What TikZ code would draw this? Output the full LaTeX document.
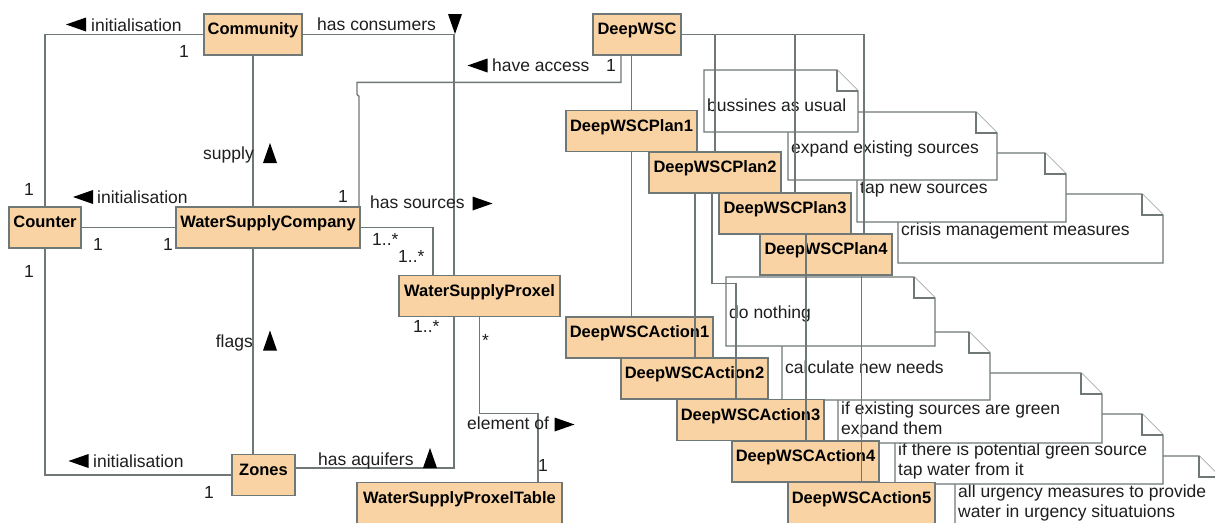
\documentclass[tikz,border=0pt]{standalone}
\usepackage{fontspec}
\setmainfont{Liberation Sans}
\usetikzlibrary{calc}
\usepackage{xcolor}
\definecolor{umlpeach}{HTML}{F9D3A3}
\definecolor{umlgray}{HTML}{6F7777}
\definecolor{umltext}{HTML}{1E1E1E}

\tikzset{
  cls/.style={draw=umlgray, fill=umlpeach, line width=1.3pt, text=black,
    font=\fontsize{16.5}{19}\selectfont\bfseries, minimum width=#1,
    minimum height=41pt, inner sep=0pt, text height=12pt, text depth=12pt},
  conn/.style={draw=umlgray, line width=1.3pt},
  note/.style={draw=umlgray, fill=white, line width=1.3pt, line join=miter},
  notetxt/.style={text=umltext, font=\fontsize{17.5}{20.5}\selectfont,
    anchor=north west, align=left, inner sep=0pt},
  lbl/.style={text=umltext, font=\fontsize{17.5}{20}\selectfont,
    inner sep=0pt, anchor=base west},
  lble/.style={lbl, anchor=base east},
  pics/trileft/.style={code={\fill (-10,0) -- (10,-7) -- (10,7) -- cycle;}},
  pics/triright/.style={code={\fill (10,0) -- (-10,-7) -- (-10,7) -- cycle;}},
  pics/triup/.style={code={\fill (0,-10) -- (7,10) -- (-7,10) -- cycle;}},
  pics/tridown/.style={code={\fill (0,10) -- (7,-10) -- (-7,-10) -- cycle;}}
}

\begin{document}
\begin{tikzpicture}[x=1pt, y=-1pt]
  \fill[white] (0,0) rectangle (1215,522);
  \useasboundingbox (0,0) rectangle (1215,522);

  \foreach \nm/\xa/\ya/\xb/\yb/\txt in {
      urgency/955/456/1220/526/{all urgency measures to provide\\water in urgency situatuions},
      ifthere/895/414/1163/484/{if there is potential green source\\tap water from it},
      ifexist/838/373/1102/443/{if existing sources are green\\expand them},
      calcneeds/782/332/990/400/{calculate new needs},
      nothing/726/277/935/346/{do nothing},
      crisis/898/194/1163/263/{crisis management measures},
      tapnew/857/153/1066/222/{tap new sources},
      expand/788/112/997/180/{expand existing sources},
      usual/704/70/858/132/{bussines as usual}} {
    \filldraw[note] (\xa,\ya) -- ({\xb-21},\ya) -- (\xb,{\ya+21}) -- (\xb,\yb) -- (\xa,\yb) -- cycle;
    \draw[note] ({\xb-21},\ya) |- (\xb,{\ya+21});
    \node[notetxt] (\nm) at ({\xa+3},{\ya+28.5}) {\txt};
  }

  \node[cls=98pt] (community) at (253,34.5) {Community};
  \node[cls=72pt] (counter) at (45,227.5) {Counter};
  \node[cls=184pt] (wsc) at (268,227.5) {WaterSupplyCompany};
  \node[cls=63pt] (zones) at (263.5,475) {Zones};
  \node[cls=161pt] (proxel) at (479.5,296) {WaterSupplyProxel};
  \node[cls=205pt] (table) at (459.5,503) {WaterSupplyProxelTable};
  \node[cls=88pt] (dwsc) at (637,34.5) {DeepWSC};
  \node[cls=131pt] (plan1) at (631.5,131) {DeepWSCPlan1};
  \node[cls=132pt] (plan2) at (715,172.5) {DeepWSCPlan2};
  \node[cls=132pt] (plan3) at (785,213.5) {DeepWSCPlan3};
  \node[cls=132pt] (plan4) at (826,254.5) {DeepWSCPlan4};
  \node[cls=147pt] (act1) at (639.5,337.5) {DeepWSCAction1};
  \node[cls=147pt] (act2) at (694.5,378.5) {DeepWSCAction2};
  \node[cls=147pt] (act3) at (750.5,420) {DeepWSCAction3};
  \node[cls=147pt] (act4) at (805.5,461.5) {DeepWSCAction4};
  \node[cls=147pt] (act5) at (861.5,503) {DeepWSCAction5};

  \coordinate (p3in) at ([xshift=10pt]plan3.north);
  \coordinate (p2out) at ([xshift=-20pt]plan2.south);
  \coordinate (p3out) at ([xshift=21pt]plan3.south);

  \draw[conn] (community.west) -| (counter.north);
  \draw[conn] (counter.east) -- (wsc.west);
  \draw[conn] (counter.south) |- (zones.west);
  \draw[conn] (community.south) -- (community.south |- wsc.north);
  \draw[conn] (community.south |- wsc.south) -- (community.south |- zones.north);
  \draw[conn] (community.east) -| ([xshift=-25.5pt]proxel.north);
  \draw[conn] ([yshift=7pt]zones.east) -| ([xshift=-25.5pt]proxel.south);
  \draw[conn] (wsc.east) -| ([xshift=-46.5pt]proxel.north);
  \draw[conn] ([xshift=91pt]wsc.north) -- ++(0,-110) -- ++(-2,-2) -- ++(0,-12) -| ([xshift=-16pt]dwsc.south);
  \draw[conn] (proxel.south) -- ++(0,96) -| ([xshift=78.5pt]table.north);
  \draw[conn] (plan1.north |- dwsc.south) -- (plan1.north);
  \draw[conn] (plan1.south) -- (plan1.south |- act1.north);
  \draw[conn] (dwsc.east) -| ([xshift=38pt]plan4.north);
  \draw[conn] (plan2.north |- dwsc.east) -- (plan2.north);
  \draw[conn] (p3in |- dwsc.east) -- (p3in);
  \draw[conn] (p2out) -- (p2out |- act2.north);
  \draw[conn] ([xshift=-3pt]plan2.south) -- ++(0,90) -| ([xshift=-14.5pt]act3.north);
  \draw[conn] (p3out) -- (p3out |- act4.north);
  \draw[conn] (act5.north |- plan4.south) -- (act5.north);

  \node[lbl] (init1) at (91,31) {initialisation};
  \node[lbl] (init2) at (97,203) {initialisation};
  \node[lbl] (init3) at (93,467) {initialisation};
  \node[lble] (supply) at (254,159) {supply};
  \node[lble] (flags) at (253,347) {flags};
  \node[lbl] (consumers) at (317,30) {has consumers};
  \node[lbl] (access) at (492,71) {have access};
  \node[lbl] (sources) at (370,208) {has sources};
  \node[lbl] (aquifers) at (318,465) {has aquifers};
  \node[lbl] (elementof) at (467,429) {element of};

  \pic at (76,24.5) {trileft};
  \pic at (83,197) {trileft};
  \pic at (78.5,461) {trileft};
  \pic at (477.5,65.5) {trileft};
  \pic at (270,153) {triup};
  \pic at (270,340.5) {triup};
  \pic at (430,458) {triup};
  \pic at (455,24) {tridown};
  \pic at (482.5,203.5) {triright};
  \pic at (564.5,424.5) {triright};

  \node[lbl] (m1) at (179,57) {1};
  \node[lbl] (m2) at (24,195) {1};
  \node[lbl] (m3) at (93,250) {1};
  \node[lbl] (m4) at (163,250) {1};
  \node[lbl] (m5) at (24,277) {1};
  \node[lbl] (m6) at (204,498) {1};
  \node[lbl] (m7) at (338,202) {1};
  \node[lbl] (m8) at (372,245) {1..*};
  \node[lbl] (m9) at (398,262) {1..*};
  \node[lbl] (m10) at (413,332) {1..*};
  \node[lbl] (m11) at (482,346) {*};
  \node[lbl] (m12) at (538,471) {1};
  \node[lbl] (m13) at (606,71) {1};
\end{tikzpicture}
\end{document}
